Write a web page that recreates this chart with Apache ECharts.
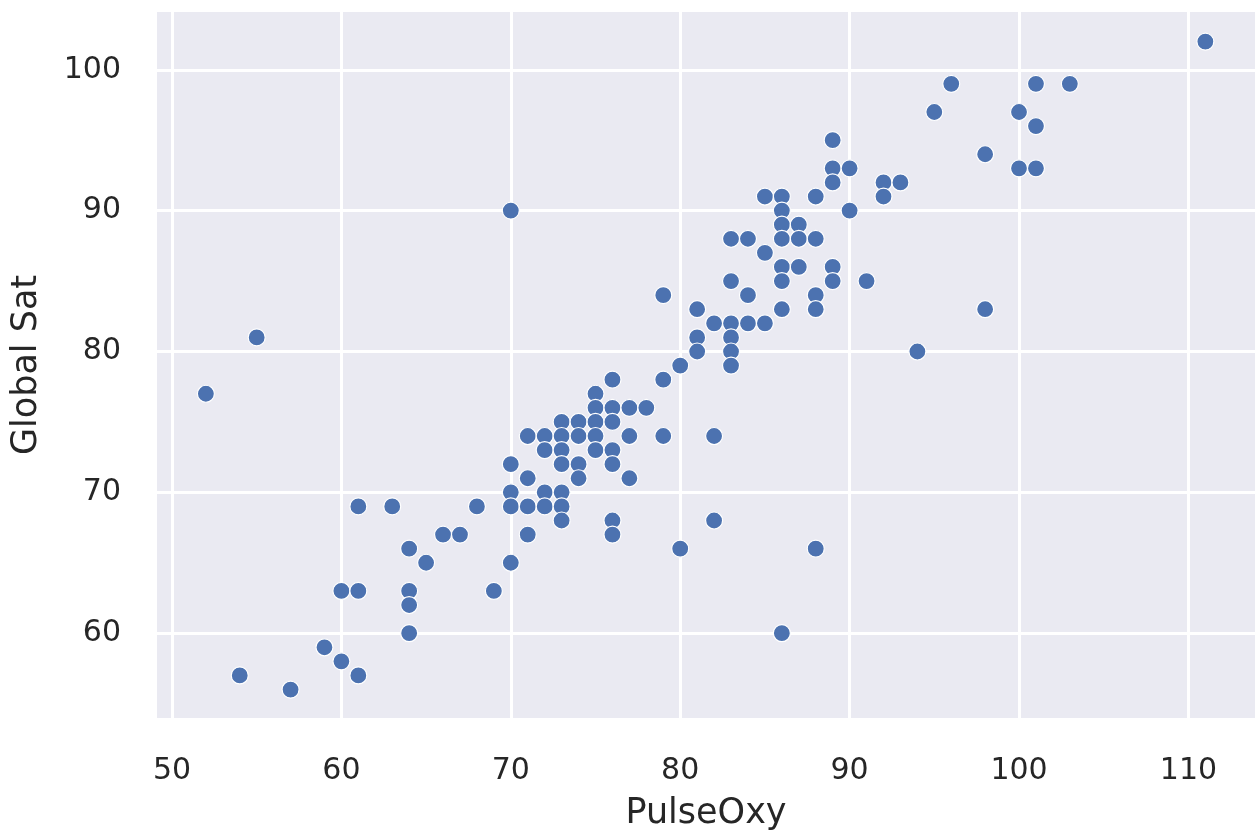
<!DOCTYPE html>
<html>
<head>
<meta charset="utf-8">
<title>PulseOxy vs Global Sat</title>
<script src="https://cdn.jsdelivr.net/npm/echarts@6/dist/echarts.min.js"></script>
<style>
  html, body { margin: 0; padding: 0; background: #ffffff; }
  #chart { width: 1255px; height: 836px; }
</style>
</head>
<body>
<div id="chart"></div>
<script>
// Paired readings: pulse oximeter value and global saturation for each subject
const pulseOxy = [
  52, 54, 55, 57, 59,
  60, 60,
  61, 61, 61,
  63,
  64, 64, 64, 64,
  65, 66, 67, 68, 69,
  70, 70, 70, 70, 70,
  71, 71, 71, 71,
  72, 72, 72, 72,
  73, 73, 73, 73, 73, 73, 73,
  74, 74, 74, 74,
  75, 75, 75, 75, 75,
  76, 76, 76, 76, 76, 76, 76,
  77, 77, 77,
  78,
  79, 79, 79,
  80, 80,
  81, 81, 81,
  82, 82, 82,
  83, 83, 83, 83, 83, 83,
  84, 84, 84,
  85, 85, 85,
  86, 86, 86, 86, 86, 86, 86, 86,
  87, 87, 87,
  88, 88, 88, 88, 88,
  89, 89, 89, 89, 89,
  90, 90,
  91,
  92, 92,
  93, 94, 95, 96,
  98, 98,
  100, 100,
  101, 101, 101,
  103, 111
];
const globalSat = [
  77, 57, 81, 56, 59,
  63, 58,
  69, 63, 57,
  69,
  66, 63, 62, 60,
  65, 67, 67, 69, 63,
  90, 72, 70, 69, 65,
  74, 71, 69, 67,
  74, 73, 70, 69,
  75, 74, 73, 72, 70, 69, 68,
  75, 74, 72, 71,
  77, 76, 75, 74, 73,
  78, 76, 75, 73, 72, 68, 67,
  76, 74, 71,
  76,
  84, 78, 74,
  79, 66,
  83, 81, 80,
  82, 74, 68,
  88, 85, 82, 81, 80, 79,
  88, 84, 82,
  91, 87, 82,
  91, 90, 89, 88, 86, 85, 83, 60,
  89, 88, 86,
  91, 88, 84, 83, 66,
  95, 93, 92, 86, 85,
  93, 90,
  85,
  92, 91,
  92, 80, 97, 99,
  94, 83,
  97, 93,
  99, 96, 93,
  99, 102
];

// Tick positions shown on each axis
const xTicks = [50, 60, 70, 80, 90, 100, 110];
const yTicks = [60, 70, 80, 90, 100];

const points = pulseOxy.map((x, i) => [x, globalSat[i]]);

const textColor = '#262626';
const fontFamily = '"DejaVu Sans", "Liberation Sans", sans-serif';

const chart = echarts.init(document.getElementById('chart'), null, { renderer: 'canvas' });

chart.setOption({
  animation: false,
  backgroundColor: '#ffffff',
  grid: {
    left: 157,
    right: 0,
    top: 12,
    bottom: 116,
    show: true,
    backgroundColor: '#eaeaf2',
    borderWidth: 0
  },
  xAxis: {
    type: 'value',
    min: 49.115,
    max: 113.93,
    name: 'PulseOxy',
    nameLocation: 'middle',
    nameGap: 78,
    nameTextStyle: { color: textColor, fontSize: 35, fontFamily: fontFamily },
    axisLine: { show: false },
    axisTick: { show: false, customValues: xTicks },
    axisLabel: {
      customValues: xTicks,
      color: textColor,
      fontSize: 30,
      fontFamily: fontFamily,
      margin: 38
    },
    splitLine: { show: true, lineStyle: { color: '#ffffff', width: 3 } }
  },
  yAxis: {
    type: 'value',
    min: 53.98,
    max: 104.1,
    name: 'Global Sat',
    nameLocation: 'middle',
    nameGap: 113,
    nameTextStyle: { color: textColor, fontSize: 35, fontFamily: fontFamily },
    axisLine: { show: false },
    axisTick: { show: false, customValues: yTicks },
    axisLabel: {
      customValues: yTicks,
      color: textColor,
      fontSize: 30,
      fontFamily: fontFamily,
      margin: 36
    },
    splitLine: { show: true, lineStyle: { color: '#ffffff', width: 3 } }
  },
  series: [{
    type: 'scatter',
    data: points,
    symbol: 'circle',
    symbolSize: 17,
    itemStyle: {
      color: '#4c72b0',
      opacity: 1,
      borderColor: '#ffffff',
      borderWidth: 1.2
    },
    emphasis: { disabled: true }
  }]
});
</script>
</body>
</html>
